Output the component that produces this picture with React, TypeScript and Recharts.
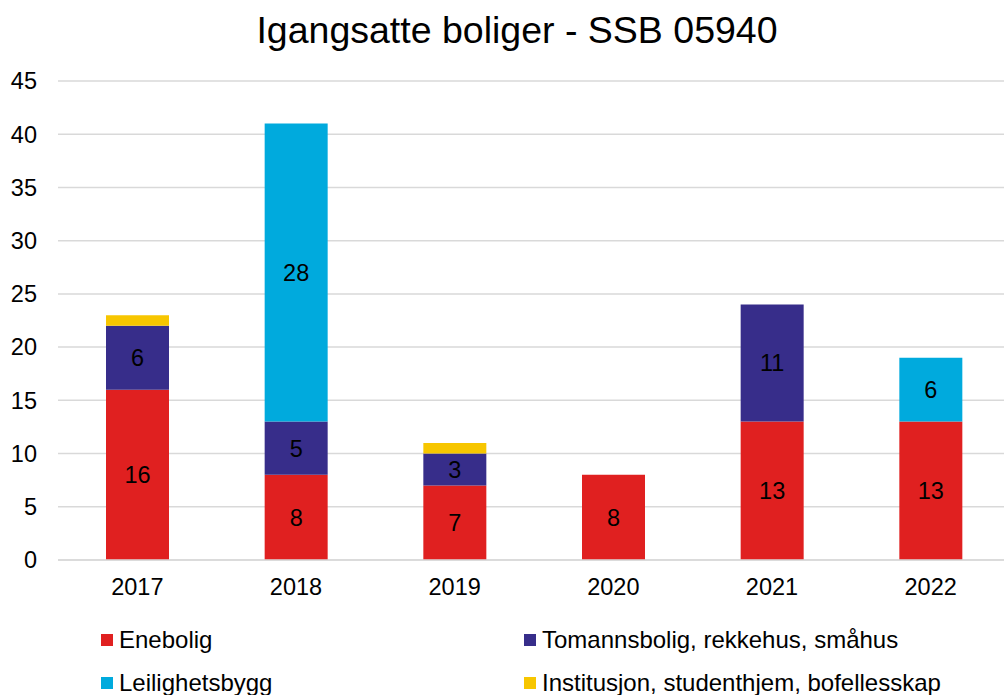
import React from "react";
import { BarChart, Bar, XAxis, YAxis, CartesianGrid, LabelList } from "recharts";

const years = ["2017", "2018", "2019", "2020", "2021", "2022"];
const enebolig = [16, 8, 7, 8, 13, 13];
const tomannsbolig = [6, 5, 3, 0, 11, 0];
const leilighetsbygg = [0, 28, 0, 0, 0, 6];
const institusjon = [1, 0, 1, 0, 0, 0];
const yTicks = [0, 5, 10, 15, 20, 25, 30, 35, 40, 45];

const series = [
  { key: "enebolig", name: "Enebolig", color: "#e02020", labels: true },
  { key: "tomannsbolig", name: "Tomannsbolig, rekkehus, småhus", color: "#372d8a", labels: true },
  { key: "leilighetsbygg", name: "Leilighetsbygg", color: "#00aadd", labels: true },
  { key: "institusjon", name: "Institusjon, studenthjem, bofellesskap", color: "#f7c600", labels: false },
];

const data = years.map((year, i) => ({
  year,
  enebolig: enebolig[i],
  tomannsbolig: tomannsbolig[i],
  leilighetsbygg: leilighetsbygg[i],
  institusjon: institusjon[i],
}));

const FONT = "'Liberation Sans', Arial, sans-serif";
const FS = 23.5;

// legend order as in the picture: two columns
const legendPos = [
  { left: 101, top: 634 },
  { left: 524, top: 634 },
  { left: 101, top: 677 },
  { left: 524, top: 677 },
];

export default function App() {
  return (
    <div
      style={{
        position: "absolute",
        left: 0,
        top: 0,
        width: 1004,
        height: 695,
        overflow: "hidden",
        background: "#fff",
        fontFamily: FONT,
      }}
    >
      <div
        style={{
          position: "absolute",
          top: 9,
          left: 0,
          width: 1034,
          textAlign: "center",
          fontSize: 37.5,
          color: "#000",
        }}
      >
        Igangsatte boliger - SSB 05940
      </div>
      <BarChart
        width={1010}
        height={695}
        data={data}
        margin={{ top: 81, right: 0, bottom: 95, left: 0 }}
        barSize={63}
      >
        <CartesianGrid vertical={false} stroke="#d9d9d9" strokeWidth={1.5} />
        <XAxis
          dataKey="year"
          axisLine={{ stroke: "#d9d9d9", strokeWidth: 1.5 }}
          tickLine={false}
          tickSize={0}
          tickMargin={18}
          height={40}
          tick={{ fill: "#000", fontSize: FS, fontFamily: FONT }}
        />
        <YAxis
          domain={[0, 45]}
          ticks={yTicks}
          width={58}
          axisLine={false}
          tickLine={false}
          tickSize={0}
          tickMargin={21}
          tick={{ fill: "#000", fontSize: FS, fontFamily: FONT }}
        />
        {series.map((s) => (
          <Bar key={s.key} dataKey={s.key} name={s.name} stackId="a" fill={s.color} isAnimationActive={false}>
            {s.labels && (
              <LabelList
                dataKey={s.key}
                position="center"
                formatter={(v: any) => (v ? v : "")}
                style={{ fill: "#000", fontSize: FS, fontFamily: FONT }}
              />
            )}
          </Bar>
        ))}
      </BarChart>
      {series.map((s, i) => (
        <div
          key={s.key}
          style={{
            position: "absolute",
            left: legendPos[i].left,
            top: legendPos[i].top - 8,
            display: "flex",
            alignItems: "center",
            fontSize: 24,
            color: "#000",
            whiteSpace: "nowrap",
          }}
        >
          <span style={{ width: 12, height: 12, background: s.color, display: "inline-block", marginRight: 6 }} />
          {s.name}
        </div>
      ))}
    </div>
  );
}
